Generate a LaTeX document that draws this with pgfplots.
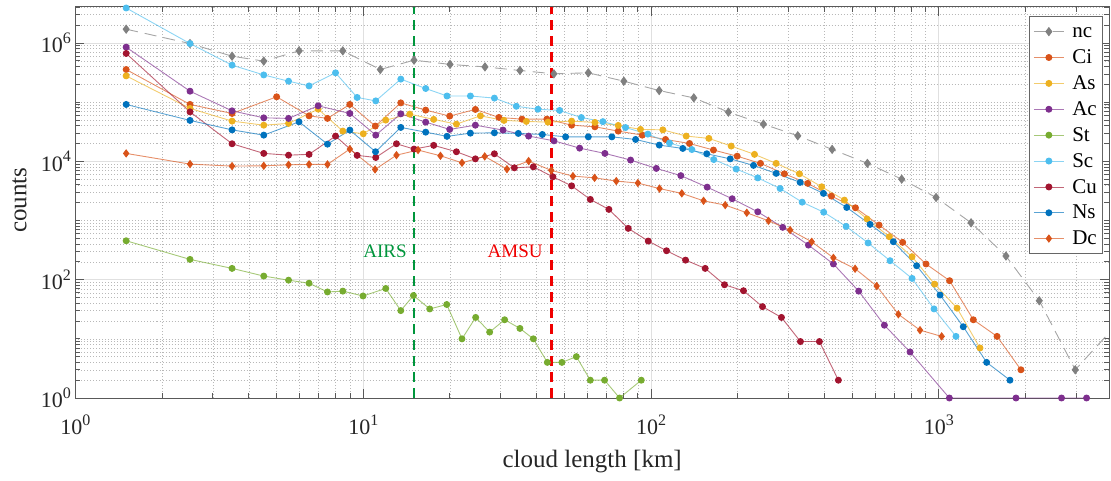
\documentclass[border=0pt]{standalone}
\usepackage{fontspec}
\setmainfont{Liberation Serif}
\usepackage{pgfplots}
\pgfplotsset{compat=1.18}

\definecolor{cNC}{RGB}{128,128,128}
\definecolor{cNCl}{RGB}{165,165,165}
\definecolor{cCi}{RGB}{217,83,25}
\definecolor{cAs}{RGB}{237,177,32}
\definecolor{cAc}{RGB}{126,47,142}
\definecolor{cSt}{RGB}{119,172,48}
\definecolor{cSc}{RGB}{77,190,238}
\definecolor{cCu}{RGB}{162,20,47}
\definecolor{cNs}{RGB}{0,114,189}
\definecolor{cAIRS}{RGB}{0,150,60}
\definecolor{cAMSU}{RGB}{240,0,0}

\newcommand{\tp}[1]{10\raisebox{0.42em}{\fontsize{16}{16}\selectfont #1}}

\pgfplotsset{
  ser/.style={color=#1, line width=0.9pt, draw opacity=0.65, mark=*, mark size=3pt,
    mark options={solid, fill=#1, draw=#1, draw opacity=1, fill opacity=1}},
}

\begin{document}
\begin{tikzpicture}
\useasboundingbox (-75.5pt,-82pt) rectangle (1035.5pt,398pt);
\begin{axis}[
  at={(0pt,0pt)}, anchor=south west,
  xmode=log, ymode=log,
  width=1033.5pt, height=391.3pt, scale only axis,
  xmin=1, xmax=3900, ymin=1, ymax=4.1e6,
  xtick={1,10,100,1000},
  xticklabels={\tp{0},\tp{1},\tp{2},\tp{3}},
  ytick={1,100,10000,1000000},
  yticklabels={\tp{0},\tp{2},\tp{4},\tp{6}},
  minor xtick={2,3,4,5,6,7,8,9,20,30,40,50,60,70,80,90,200,300,400,500,600,700,800,900,2000,3000},
  minor ytick={2,3,4,5,6,7,8,9,10,20,30,40,50,60,70,80,90,200,300,400,500,600,700,800,900,1000,2000,3000,4000,5000,6000,7000,8000,9000,20000,30000,40000,50000,60000,70000,80000,90000,100000,200000,300000,400000,500000,600000,700000,800000,900000,2000000,3000000,4000000},
  grid=both,
  major grid style={solid, color=black!12, line width=0.8pt},
  minor grid style={color=black!28, line width=0.5pt, dash pattern=on 1pt off 2pt},
  axis line style={black!65, line width=0.8pt},
  tick style={black!65, line width=0.8pt},
  major tick length=9pt, minor tick length=5pt,
  tick align=inside,
  ticklabel style={font=\fontsize{22}{22}\selectfont, text=black!85},
  xticklabel style={yshift=-13pt},
  yticklabel style={xshift=-1pt},
  xlabel={cloud length [km]}, ylabel={counts},
  every axis x label/.style={at={(axis description cs:0.5,-0.1636)}, anchor=center},
  every axis y label/.style={at={(axis description cs:-0.0542,0.506)}, rotate=90, anchor=center},
  label style={font=\fontsize{25}{25}\selectfont, text=black!85},
  legend style={at={(1,1)}, anchor=north east, xshift=-5.7pt, yshift=-9.3pt,
    draw=black!60, fill=white, line width=0.8pt,
    font=\fontsize{21}{21}\selectfont, row sep=6.5pt, inner xsep=4pt, inner ysep=5.5pt,
    /tikz/every odd column/.append style={column sep=6pt}},
  legend cell align=left,
  legend image code/.code={\draw[mark repeat=2,mark phase=2] plot coordinates {(0pt,0pt) (15pt,0pt) (30pt,0pt)};},
]

\addplot[color=cNCl, line width=0.9pt, dash pattern=on 12pt off 7pt, mark=diamond*, mark size=4pt,
  mark options={solid, fill=cNC, draw=cNC}] coordinates {
(1.5,1.71e6) (2.5,9.77e5) (3.5,5.98e5) (4.51,4.93e5) (5.98,7.36e5) (8.49,7.36e5) (11.46,3.56e5) (15.01,5.12e5) (20.02,4.34e5) (26.48,3.94e5) (35.03,3.43e5) (45.97,3.01e5) (60.53,3.13e5) (80.44,2.26e5) (106.7,1.57e5) (140.8,1.18e5) (185.8,6.78e4) (245.8,4.25e4) (323.4,2.70e4) (425.8,1.59e4) (564.6,9230) (742.8,5000) (977.9,2450) (1294,914) (1711,251) (2234,44) (2979,3) (3925,13)
};
\addlegendentry{nc\vphantom{C}}

\addplot[ser=cCi] coordinates {
(1.5,3.56e5) (2.5,9.14e4) (3.5,6.44e4) (5.0,1.23e5) (6.48,5.87e4) (7.51,5.31e4) (8.98,9.14e4) (11.01,3.94e4) (13.5,9.72e4) (16.48,7.33e4) (19.97,5.81e4) (24.52,7.53e4) (29.61,5.52e4) (35.6,5.16e4) (43.46,5.16e4) (52.97,4.08e4) (63.81,3.83e4) (76.91,3.24e4) (93.2,2.77e4) (112.3,2.34e4) (136,2.0e4) (164.8,1.55e4) (199.2,1.22e4) (240,9230) (290.7,6150) (350.4,4240) (423.4,2580) (513.1,1640) (620.1,836) (748.8,427) (902.8,184) (1090,96) (1318,21) (1593,11) (1929,3)
};
\addlegendentry{Ci}

\addplot[ser=cAs] coordinates {
(1.5,2.78e5) (2.5,7.83e4) (3.5,4.78e4) (4.51,4.08e4) (5.5,4.37e4) (6.97,7.62e4) (8.49,3.24e4) (10,2.92e4) (11.97,4.97e4) (14.5,6.27e4) (17.57,5.11e4) (21.07,4.25e4) (25.53,5.87e4) (30.83,4.91e4) (36.87,4.72e4) (43.83,4.59e4) (52.97,4.78e4) (63.81,4.54e4) (76.91,4.04e4) (91.9,3.46e4) (109.9,3.40e4) (132.5,2.67e4) (158.8,2.44e4) (189.9,1.81e4) (228.8,1.31e4) (272.1,9230) (327.8,6150) (391.8,3710) (469.8,2210) (563.1,1060) (673.1,531) (807.2,244) (967,84) (1157,33) (1390,7)
};
\addlegendentry{As}

\addplot[ser=cAc] coordinates {
(1.5,8.49e5) (2.5,1.53e5) (3.5,7.13e4) (4.51,5.43e4) (5.5,5.31e4) (6.97,8.67e4) (8.98,6.44e4) (11.05,2.77e4) (13.5,6.34e4) (16.48,4.59e4) (19.97,3.46e4) (24.52,4.08e4) (30.59,3.37e4) (37.55,2.67e4) (45.97,2.22e4) (56.47,1.67e4) (69.13,1.36e4) (84.9,1.05e4) (104.3,7590) (126.9,5730) (156.7,3660) (191.4,2330) (234.9,1400) (286.8,766) (352.4,384) (430.2,184) (526.7,64) (646.9,17) (794.3,6) (1088,1) (1854,1) (2669,1) (3261,1)
};
\addlegendentry{Ac}

\addplot[ser=cSt] coordinates {
(1.5,454) (2.5,220) (3.5,155) (4.51,115) (5.5,98) (6.48,87) (7.51,62) (8.49,64) (9.98,53) (11.97,71) (13.5,30) (14.94,54) (17.02,32) (19.5,38) (22.03,10) (24.58,23) (27.49,13) (30.99,21) (35.03,15) (38.99,10) (43.61,4) (49.01,4) (55.01,5) (61.51,2) (68.95,2) (77.74,1) (92.47,2)
};
\addlegendentry{St}

\addplot[ser=cSc] coordinates {
(1.5,3.9e6) (2.5,9.77e5) (3.5,4.22e5) (4.51,2.88e5) (5.5,2.26e5) (6.48,1.88e5) (8.01,3.13e5) (9.52,1.2e5) (11.05,1.05e5) (13.5,2.45e5) (16.48,1.7e5) (19.54,1.27e5) (23.56,1.27e5) (28.55,1.17e5) (34.03,8.51e4) (40.46,7.59e4) (48.12,7.24e4) (57.24,5.5e4) (68.03,4.68e4) (81.54,3.72e4) (97.46,2.88e4) (115.9,2.04e4) (138.6,1.58e4) (165.2,1.07e4) (197.6,7410) (234.9,5250) (280.9,3470) (335,2040) (398.1,1380) (476.2,794) (567.9,417) (676.9,209) (807.2,105) (962.3,32) (1147,11)
};
\addlegendentry{Sc}

\addplot[ser=cCu] coordinates {
(1.5,6.65e5) (2.5,6.85e4) (3.5,1.98e4) (4.51,1.36e4) (5.5,1.27e4) (6.48,1.31e4) (8.01,2.67e4) (9.52,1.26e4) (11.05,1.16e4) (13.04,1.98e4) (15.01,1.61e4) (17.57,1.86e4) (21.07,1.45e4) (24.52,1.1e4) (28.55,1.34e4) (33.5,7760) (38.99,8070) (45.6,5470) (52.97,3850) (61.51,2270) (71.37,1540) (83.31,736) (97.79,449) (113.2,308) (131.8,214) (154.2,155) (180,82) (209.5,65) (243.9,35) (283.9,23) (330.5,9) (384.7,9) (447.7,2)
};
\addlegendentry{Cu}

\addplot[ser=cNs] coordinates {
(1.5,9.14e4) (2.5,4.91e4) (3.5,3.4e4) (4.51,2.77e4) (5.98,4.65e4) (7.51,1.95e4) (8.98,3.37e4) (11.03,1.45e4) (13.5,3.74e4) (16.48,3.11e4) (19.54,2.64e4) (23.56,2.99e4) (28.55,3.03e4) (34.58,2.96e4) (41.9,2.84e4) (50.48,2.59e4) (60.53,2.59e4) (73.1,2.59e4) (88.36,2.34e4) (106.8,1.88e4) (128.9,1.65e4) (156.2,1.34e4) (188.4,1.1e4) (227,8530) (272.1,6250) (329.7,4410) (397.2,2870) (478.6,1660) (576.9,859) (695,437) (837.3,172) (1010,55) (1216,16) (1466,4) (1767,2)
};
\addlegendentry{Ns}

\addplot[ser=cCi, mark=diamond*, mark size=3.5pt] coordinates {
(1.5,1.36e4) (2.5,8970) (3.5,8300) (4.51,8400) (5.5,8730) (6.48,8870) (7.51,8870) (8.98,1.61e4) (10.99,7290) (13.04,1.27e4) (15.5,1.55e4) (18.54,1.24e4) (22.03,9440) (26.42,1.21e4) (31.57,7380) (37.55,1.01e4) (45.02,7020) (53.53,5620) (63.66,5260) (75.72,4630) (90,4290) (107,3460) (127.9,2870) (152.2,2150) (181,1820) (215.1,1350) (255.9,989) (304.3,689) (361.7,437) (430.2,234) (511.7,153) (608.1,78) (723.4,26) (860.4,14) (1023,11)
};
\addlegendentry{Dc}

\addplot[cAIRS, line width=2.5pt, dash pattern=on 10pt off 6pt, forget plot] coordinates {(15,1) (15,4.1e6)};
\addplot[cAMSU, line width=2.5pt, dash pattern=on 10pt off 6pt, forget plot] coordinates {(45,1) (45,4.1e6)};

\node[text=cAIRS, font=\fontsize{19}{19}\selectfont] at (axis cs:11.9,296) {AIRS};
\node[text=cAMSU, font=\fontsize{19}{19}\selectfont] at (axis cs:33.7,296) {AMSU};
\end{axis}
\end{tikzpicture}
\end{document}
